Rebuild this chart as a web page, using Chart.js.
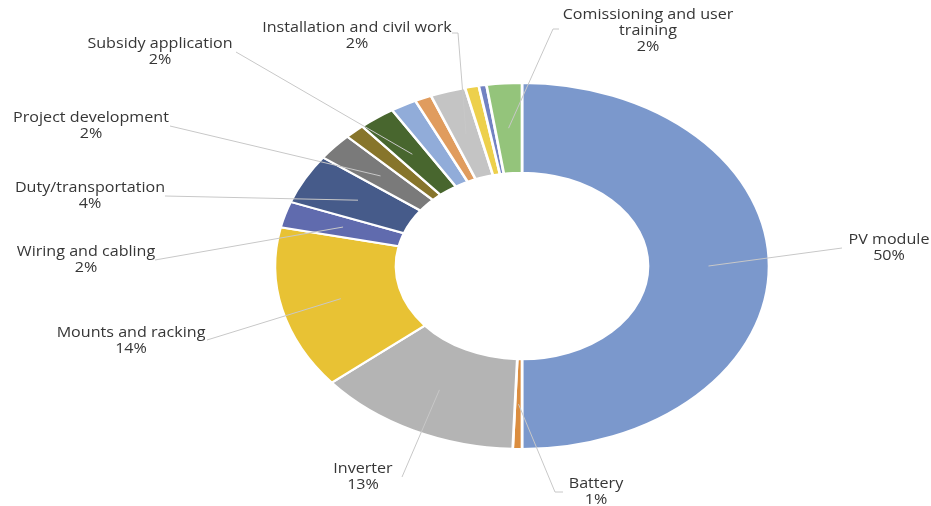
<!DOCTYPE html>
<html>
<head>
<meta charset="utf-8">
<script src="https://cdn.jsdelivr.net/npm/chart.js@4"></script>
<style>
  html, body { margin: 0; padding: 0; background: #fff; }
  #wrap { width: 931px; height: 506px; position: relative; }
</style>
</head>
<body>
<div id="wrap"><canvas id="Chart"></canvas></div>
<script>
// cost breakdown, clockwise from 12 o'clock
const categories = ['PV module', 'Battery', 'Inverter', 'Mounts and racking', 'Wiring and cabling',
  'Duty/transportation', 'Project development', '', 'Subsidy application', '', '',
  'Installation and civil work', '', '', 'Comissioning and user training'];
const shares = [50, 0.6, 13.4, 14.4, 2.3, 4.4, 2.4, 1.3, 2.4, 1.7, 1.1, 2.3, 0.9, 0.5, 2.3];
const colors = ['#7B98CC', '#DB8D3F', '#B4B4B4', '#E8C234', '#606BAE', '#465B8A', '#7A7A7A',
  '#87752B', '#48662E', '#91ACD9', '#E09C5E', '#C4C4C4', '#EDD04C', '#7282C2', '#94C47B'];

// where each label sits and how its leader line bends (index -> layout)
const labelLayout = {
  0:  { x: 889, y: 240, path: [[842, 248]] },
  1:  { x: 596, y: 484, path: [[555, 492], [563, 492]] },
  2:  { x: 363, y: 469, path: [[402, 477]] },
  3:  { x: 131, y: 333, path: [[207, 340]] },
  4:  { x: 86,  y: 252, path: [[155, 260]] },
  5:  { x: 90,  y: 188, path: [[165, 196]] },
  6:  { x: 91,  y: 118, path: [[170, 126]] },
  8:  { x: 160, y: 44,  path: [[236, 52]] },
  11: { x: 357, y: 28,  path: [[458, 33], [452, 33]] },
  14: { x: 648, y: 15,  path: [[553, 29], [559, 29]], maxWidth: 195 }
};

const STRETCH_X = 1.35; // the original pie is drawn wider than tall
const TEXT_STRETCH = 1.15;

function wrapText(c, text, maxWidth) {
  const words = text.split(' ');
  const lines = [];
  let cur = '';
  words.forEach(w => {
    const test = cur ? cur + ' ' + w : w;
    if (cur && c.measureText(test).width * TEXT_STRETCH > maxWidth) {
      lines.push(cur);
      cur = w;
    } else {
      cur = test;
    }
  });
  if (cur) lines.push(cur);
  return lines;
}

const ellipseLabels = {
  id: 'ellipseLabels',
  beforeDatasetsDraw(chart) {
    const arc = chart.getDatasetMeta(0).data[0];
    const c = chart.ctx;
    c.save();
    c.translate(arc.x, arc.y);
    c.scale(STRETCH_X, 1);
    c.translate(-arc.x, -arc.y);
  },
  afterDatasetsDraw(chart) {
    const c = chart.ctx;
    c.restore();
    const arcs = chart.getDatasetMeta(0).data;
    c.save();
    c.font = '14px "Open Sans"';
    c.textAlign = 'center';
    c.textBaseline = 'middle';
    Object.keys(labelLayout).forEach(k => {
      const i = +k;
      const L = labelLayout[i];
      const a = arcs[i];
      const mid = (a.startAngle + a.endAngle) / 2;
      const r = (a.innerRadius + a.outerRadius) / 2;
      const sx = a.x + Math.cos(mid) * r * STRETCH_X;
      const sy = a.y + Math.sin(mid) * r;

      c.strokeStyle = '#C8C8C8';
      c.lineWidth = 1;
      c.beginPath();
      c.moveTo(sx, sy);
      L.path.forEach(p => c.lineTo(p[0], p[1]));
      c.stroke();

      const lines = wrapText(c, categories[i], L.maxWidth || 300);
      lines.push(Math.round(shares[i]) + '%');
      c.fillStyle = '#363636';
      lines.forEach((t, j) => {
        c.save();
        c.translate(L.x, L.y + j * 16);
        c.scale(TEXT_STRETCH, 1);
        c.fillText(t, 0, 0);
        c.restore();
      });
    });
    c.restore();
  }
};

const ctx = document.getElementById('Chart').getContext('2d');

new Chart(ctx, {
  type: 'doughnut',
  data: {
    labels: categories,
    datasets: [{
      data: shares,
      backgroundColor: colors,
      borderColor: '#fff',
      borderWidth: 2
    }]
  },
  options: {
    responsive: true,
    maintainAspectRatio: false,
    animation: false,
    cutout: '51%',
    layout: {
      padding: { top: 82, bottom: 56, left: 322, right: 209 }
    },
    plugins: {
      legend: { display: false },
      tooltip: { enabled: false }
    }
  },
  plugins: [ellipseLabels]
});
</script>
</body>
</html>
